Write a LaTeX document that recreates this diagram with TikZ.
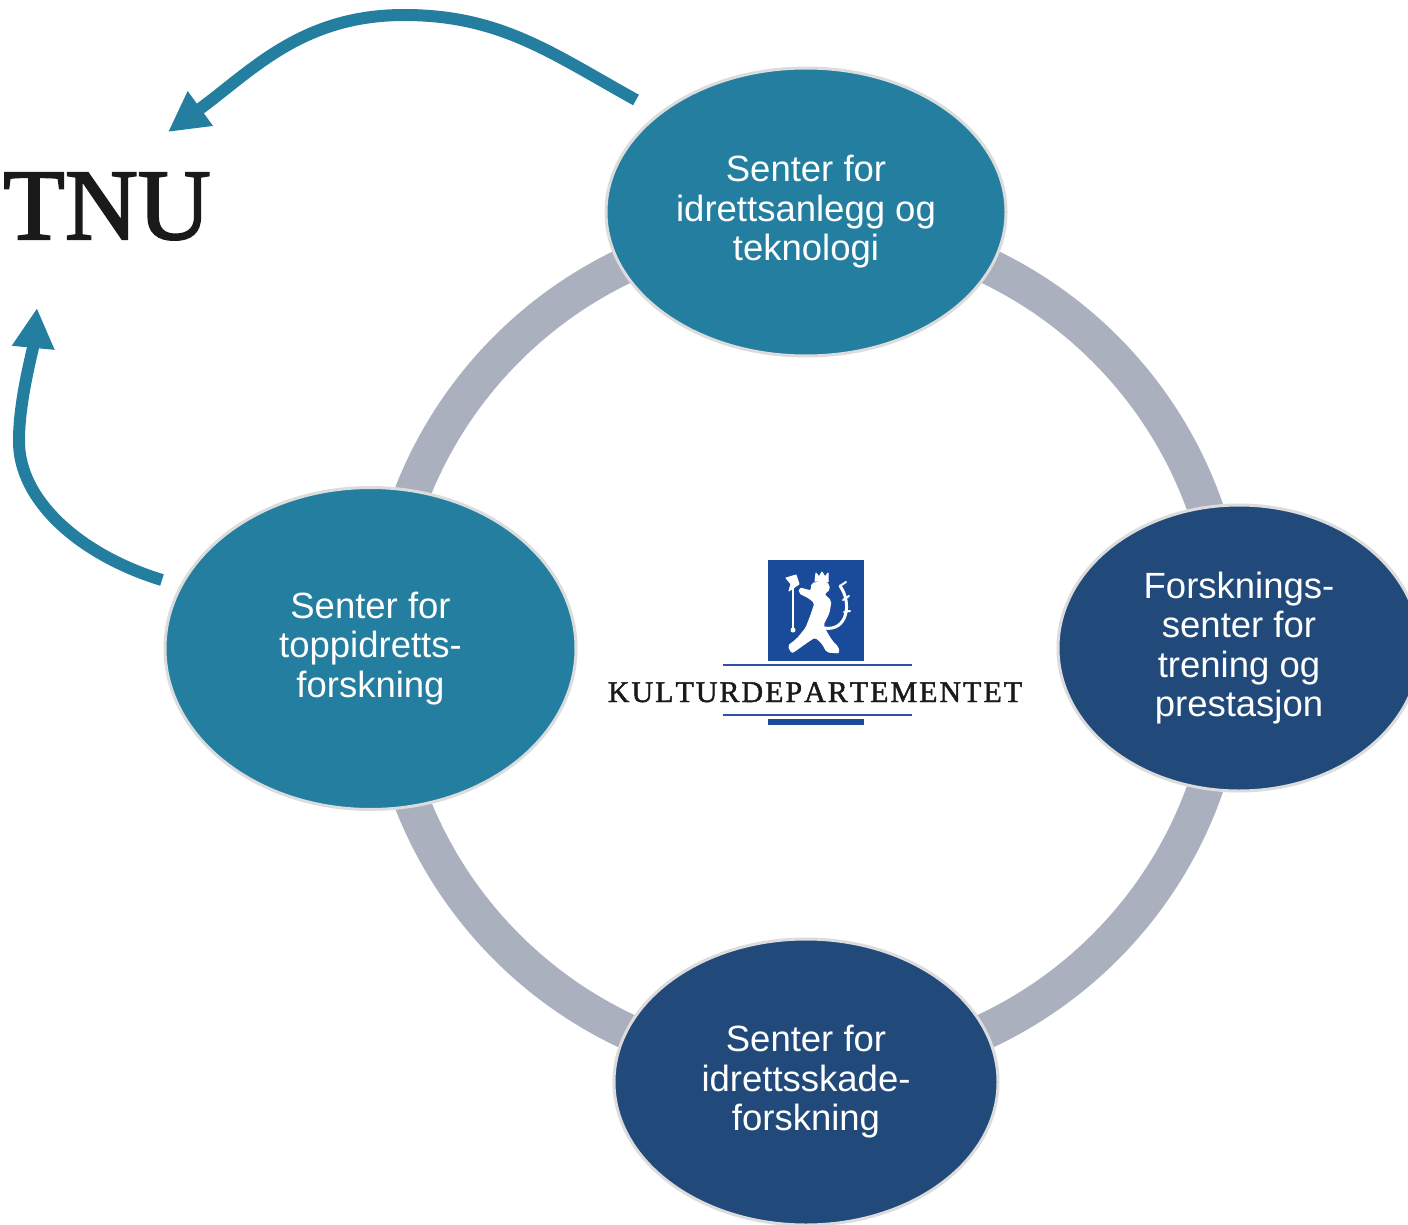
\documentclass[tikz,border=0pt]{standalone}
\usepackage{fontspec}
\setmainfont{Liberation Sans}
\newfontfamily\serifont[FakeBold=2]{Liberation Serif}
\newfontfamily\logofont[FakeBold=1.5]{Liberation Serif}
\usetikzlibrary{shapes.geometric,arrows.meta}
\definecolor{cteal}{HTML}{247E9F}
\definecolor{cnavy}{HTML}{214A7B}
\definecolor{ringc}{HTML}{ABB0BF}
\definecolor{edgec}{HTML}{DCDCDC}
\definecolor{logoblue}{HTML}{1A4B9A}
\definecolor{logoline}{HTML}{2E50A6}
\definecolor{inkc}{HTML}{1A1A1A}
\tikzset{
  centre/.style={ellipse, draw=edgec, line width=3pt, inner sep=0pt, align=center,
    text=white, font=\fontsize{36.5}{39.5}\selectfont},
  tealc/.style={centre, fill=cteal},
  navyc/.style={centre, fill=cnavy},
  back/.style={-{Triangle[length=40pt,width=40pt]}, draw=cteal, line width=12pt},
  lionpart/.style={fill=white, draw=white, line width=1pt, line join=round}
}
\begin{document}
\begin{tikzpicture}[x=1pt,y=-1pt]
\useasboundingbox (0,0) rectangle (1408,1225);
\clip (0,0) rectangle (1408,1225);
\fill[white] (0,0) rectangle (1408,1225);

% ring
\draw[ringc, line width=36pt] (806,648) circle[radius=423pt];

% centres
\node[tealc, minimum width=400pt, minimum height=288pt] (anlegg) at (806,212)
  {Senter for\\idrettsanlegg og\\teknologi};
\node[navyc, minimum width=362pt, minimum height=286pt] (trening) at (1239,648)
  {Forsknings-\\senter for\\trening og\\prestasjon};
\node[navyc, minimum width=384pt, minimum height=286pt] (skade) at (806,1082)
  {Senter for\\idrettsskade-\\forskning};
\node[tealc, minimum width=411pt, minimum height=322pt] (topp) at (370.5,648.5)
  {Senter for\\toppidretts-\\forskning};

% NTNU
\node[anchor=base west, inner sep=0pt, text=inkc,
  font=\serifont\fontsize{101}{101}\selectfont] (tnu) at (3,239) {TNU};

% arrows back to NTNU
\coordinate (a1s) at (636,100);
\coordinate (a1m) at (404,15);
\coordinate (a1e) at (168,132);
\coordinate (a2s) at (162,580);
\coordinate (a2m) at (19,440);
\coordinate (a2e) at (37,308);
\draw[back] (a1s) to[out=151,in=0] (a1m) to[out=180,in=36] (a1e);
\draw[back] (a2s) .. controls (80,555) and (18,500) .. (a2m)
  .. controls (19,400) and (33,350) .. (a2e);

% Kulturdepartementet logo
\fill[logoblue] (768,560) rectangle (864,661);
\fill[logoblue] (768,719) rectangle (864,725);
\draw[logoline, line width=2.5pt] (723,665) -- (912,665);
\draw[logoline, line width=2.5pt] (723,715) -- (912,715);
\node[anchor=base, inner sep=0pt, text=inkc,
  font=\logofont\fontsize{30}{30}\selectfont] (kd) at (815,702)
  {K\kern2pt U\kern2pt L\kern2pt T\kern2pt U\kern2pt R\kern2pt D\kern2pt E\kern2pt P\kern2pt A\kern2pt R\kern2pt T\kern2pt E\kern2pt M\kern2pt E\kern2pt N\kern2pt T\kern2pt E\kern2pt T};

% lion (simplified)
\draw[white, line width=2.5pt] (793,583) -- (793,628);
\fill[white] (793,630) circle[radius=2.5pt];
\fill[lionpart] (786,578) -- (796,575) -- (799,584) -- (789,591) -- (791,584) -- cycle;
\fill[lionpart] (815,581) -- (816,573) -- (819,577) -- (822,572) -- (825,577) -- (828,573) -- (828,582) -- cycle;
\fill[lionpart, rounded corners=2pt]
  (812,583) -- (827,582) -- (830,589) -- (824,594) -- (831,601) -- (829,613)
  -- (823,625) -- (827,633) -- (832,641) -- (838,647) -- (839,653) -- (827,652)
  -- (822,643) -- (815,637) -- (806,643) -- (799,648) -- (792,653) -- (788,646)
  -- (797,639) -- (806,628) -- (811,615) -- (815,603) -- (809,598) -- (799,593)
  -- (800,588) -- (811,591) -- cycle;
\draw[white, line width=3pt, line cap=round] (824,628) .. controls (848,632) and (852,602) .. (840,586);
\draw[white, line width=2pt, line cap=round] (840,586) -- (846,582);
\draw[white, line width=2pt, line cap=round] (843,600) -- (849,596);
\draw[white, line width=2pt, line cap=round] (844,612) -- (850,611);
\end{tikzpicture}
\end{document}
